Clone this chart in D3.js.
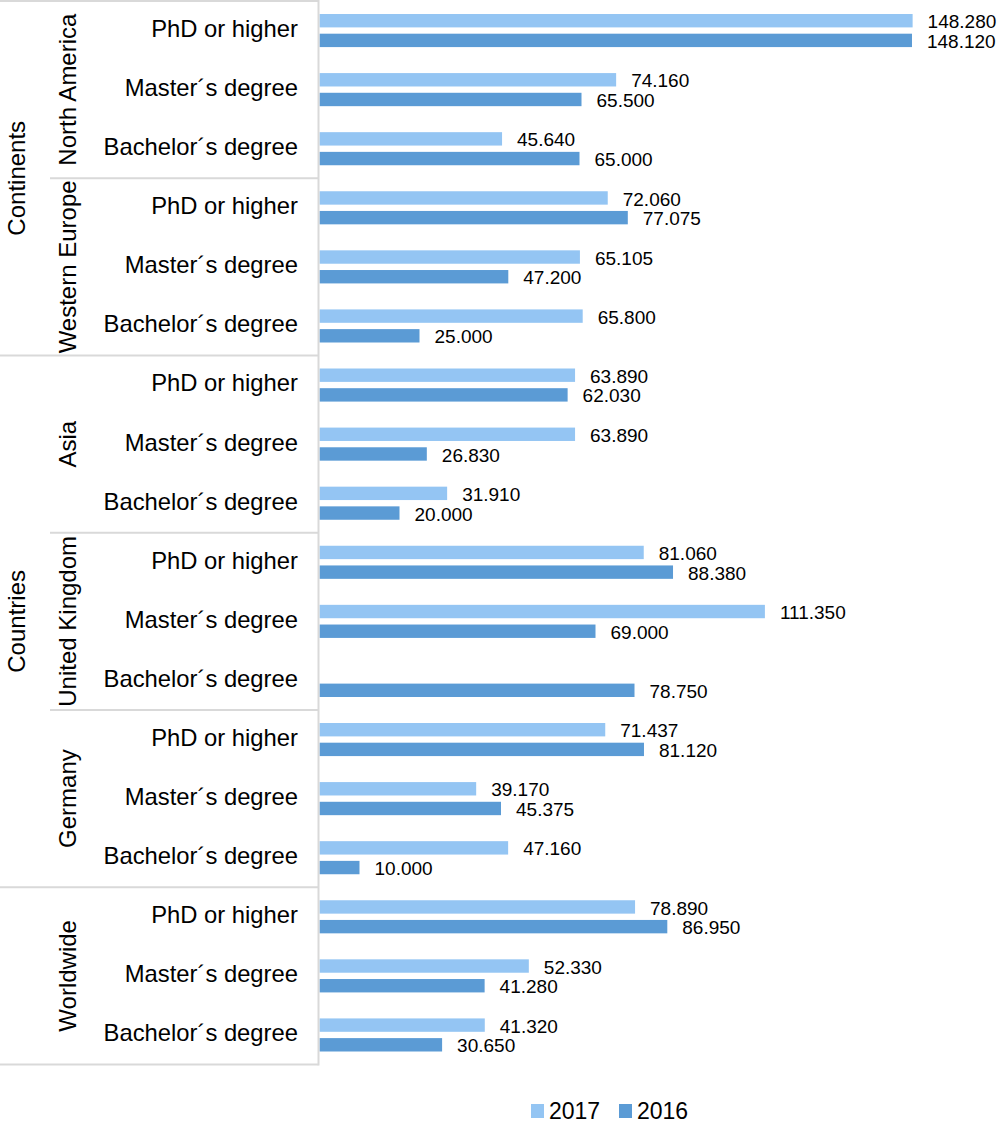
<!DOCTYPE html>
<html><head><meta charset="utf-8">
<script src="https://cdn.jsdelivr.net/npm/d3@7"></script>
<style>body{margin:0;background:#fff}svg{display:block;font-family:"Liberation Sans",Arial,sans-serif}</style>
</head><body><svg id="c" width="1004" height="1126"></svg>
<script>
const level1 = [
  {name:"Continents", groups:["North America","Western Europe"]},
  {name:"Countries", groups:["Asia","United Kingdom","Germany"]},
  {name:"", groups:["Worldwide"]}
];
const degrees = ["PhD or higher","Master´s degree","Bachelor´s degree"];
const seriesNames = ["2017","2016"];
const values2017 = [148280,74160,45640, 72060,65105,65800, 63890,63890,31910, 81060,111350,null, 71437,39170,47160, 78890,52330,41320];
const values2016 = [148120,65500,65000, 77075,47200,25000, 62030,26830,20000, 88380,69000,78750, 81120,45375,10000, 86950,41280,30650];
const colors = {"2017":"#94C5F3","2016":"#5B9BD5"};

(function(){
const svg = d3.select("#c");
const grid = "#D9D9D9";
const rows = [];
level1.forEach(l1=>l1.groups.forEach(g=>degrees.forEach(d=>rows.push({l1:l1.name,g,d,key:g+"|"+d}))));
rows.forEach((r,i)=>{r.v2017=values2017[i]; r.v2016=values2016[i];});

const yTop=1, yBottom=1064.5, axisX=318.5;
const y = d3.scaleBand().domain(rows.map(r=>r.key)).range([yTop,yBottom]);
const yi = d3.scaleBand().domain(seriesNames).range([0,y.bandwidth()]).paddingInner(0.32).paddingOuter(0.66);
const x = d3.scaleLinear().domain([0,150000]).range([319.5,919.5]);
const fmt = v => d3.format(",.0f")(v).replace(/,/g,".");

const g = svg.append("g");
seriesNames.forEach(s=>{
  g.selectAll("rect.s"+s).data(rows.filter(r=>r["v"+s]!=null)).join("rect")
    .attr("class","s"+s)
    .attr("x",x(0)).attr("y",r=>y(r.key)+yi(s)).attr("height",yi.bandwidth())
    .attr("width",r=>x(r["v"+s])-x(0)).attr("fill",colors[s]);
  g.selectAll("text.s"+s).data(rows.filter(r=>r["v"+s]!=null)).join("text")
    .attr("class","s"+s)
    .attr("x",r=>x(r["v"+s])+15).attr("y",r=>y(r.key)+yi(s)+yi.bandwidth()/2)
    .attr("dy","0.4em").attr("font-size",19).attr("fill","#000").text(r=>fmt(r["v"+s]));
});

const lines = svg.append("g").attr("stroke",grid).attr("stroke-width",2);
lines.append("line").attr("x1",axisX).attr("x2",axisX).attr("y1",0).attr("y2",yBottom+1);
lines.append("line").attr("x1",0).attr("x2",axisX).attr("y1",yTop).attr("y2",yTop);
let idx=0;
level1.forEach(l1=>{
  l1.groups.forEach((gname,gi)=>{
    idx+=3;
    const yy = y(rows[idx-1].key)+y.bandwidth();
    const last = gi===l1.groups.length-1;
    lines.append("line").attr("x1",last?0:50).attr("x2",axisX).attr("y1",yy).attr("y2",yy);
  });
});

svg.append("g").selectAll("text").data(rows).join("text")
  .attr("x",298).attr("y",r=>y(r.key)+y.bandwidth()/2).attr("dy","0.27em")
  .attr("text-anchor","end").attr("font-size",23.8).attr("fill","#000").text(r=>r.d);

const groupsAll = level1.flatMap(l=>l.groups);
groupsAll.forEach(gname=>{
  const rs = rows.filter(r=>r.g===gname);
  const cy = (y(rs[0].key)+y(rs[rs.length-1].key)+y.bandwidth())/2;
  svg.append("text").attr("transform",`translate(76,${cy}) rotate(-90)`)
    .attr("text-anchor","middle").attr("font-size",24).attr("fill","#000").text(gname);
});
level1.forEach(l1=>{
  if(!l1.name) return;
  const rs = rows.filter(r=>r.l1===l1.name);
  const cy = (y(rs[0].key)+y(rs[rs.length-1].key)+y.bandwidth())/2;
  svg.append("text").attr("transform",`translate(25,${cy}) rotate(-90)`)
    .attr("text-anchor","middle").attr("font-size",24).attr("fill","#000").text(l1.name);
});

const leg = svg.append("g");
const legX = [531,619];
seriesNames.forEach((s,i)=>{
  leg.append("rect").attr("x",legX[i]).attr("y",1104).attr("width",13).attr("height",14).attr("fill",colors[s]);
  leg.append("text").attr("x",legX[i]+18).attr("y",1119).attr("font-size",23).attr("fill","#000").text(s);
});
})();
</script></body></html>
